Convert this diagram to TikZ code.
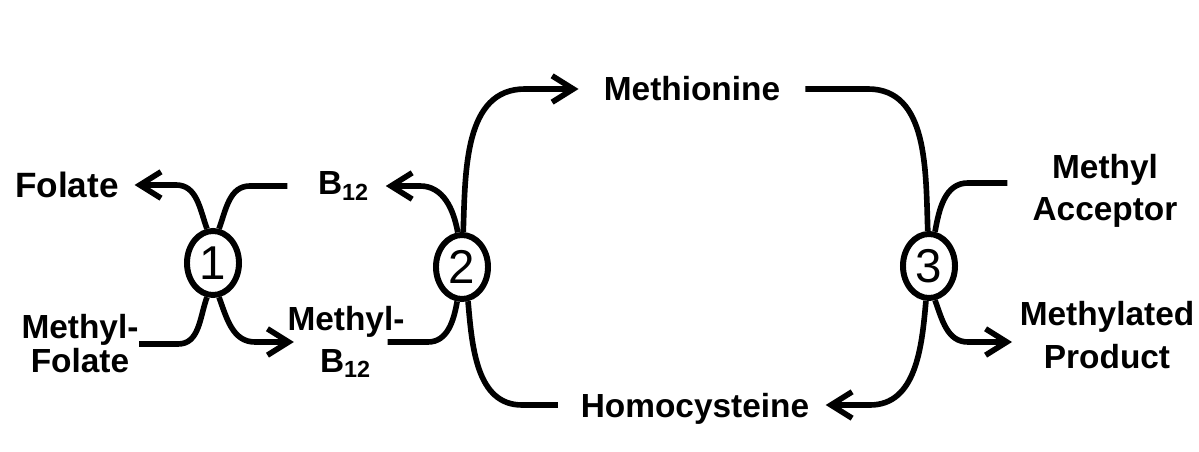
\documentclass[tikz,border=0pt]{standalone}
\usepackage{fontspec}
\setmainfont{Liberation Sans}
\usetikzlibrary{arrows.meta,shapes.geometric}

\begin{document}
\begin{tikzpicture}[x=0.01cm,y=-0.01cm,
		linie/.style={line width=1.6pt},
		pfeil/.style={linie,-{Straight Barb[length=6pt,width=7.5pt]}},
		enzym/.style={draw,ellipse,line width=1.7pt,fill=white,inner sep=0pt,
			minimum width=0.52cm,minimum height=0.64cm,font=\fontsize{13.5}{13.5}\selectfont},
		stoff/.style={inner sep=0pt,align=center,font=\bfseries\fontsize{9.5}{12}\selectfont}]
		\useasboundingbox (0,0) rectangle (1199,452);
		% Enzyme
		\node[enzym] (e1) at (213,263) {1};
		\node[enzym] (e2) at (462,267) {2};
		\node[enzym] (e3) at (929,266) {3};
		% Stoffe
		\node[stoff,font=\bfseries\fontsize{10}{12}\selectfont] (folate) at (67,185) {Folate};
		\node[stoff] (b12) at (344,186) {B\textsubscript{12}};
		\node[stoff,font=\bfseries\fontsize{9.5}{9.7}\selectfont] (mfolate) at (80,344) {Methyl-\\Folate};
		\node[stoff] (mb12) at (346,342) {Methyl-\\B\textsubscript{12}};
		\node[stoff] (met) at (692,89) {Methionine};
		\node[stoff,text depth=0pt] (hcy) at (695,405) {Homocysteine};
		\node[stoff] (acc) at (1105,191) {Methyl\\Acceptor};
		\node[stoff] (prod) at (1107,335) {Methylated\\Product};
		% Reaktion 1
		\draw[pfeil,shorten >=4.3pt] (e1.100) to[out=110,in=0] (176,185) -- (folate.east);
		\draw[linie,shorten <=8.5pt] (b12.west) -- (250,186) to[out=180,in=70] (e1.80);
		\draw[linie] (mfolate.east) -- (178,344) to[out=0,in=250] (e1.260);
		\draw[pfeil,shorten >=-2pt] (e1.280) to[out=290,in=180] (255,342) -- (mb12.west);
		% Reaktion 2
		\draw[linie,shorten <=-5pt] (mb12.east) -- (428,342) to[out=0,in=260] (e2.262);
		\draw[pfeil,shorten >=4.3pt] (e2.97) to[out=100,in=0] (420,186) -- (b12.east);
		\draw[pfeil,shorten >=7pt] (e2.88) to[out=88,in=180] (525,89) -- (met.west);
		\draw[linie,shorten <=6.3pt] (hcy.west) -- (522,405) to[out=180,in=275] (e2.280);
		% Reaktion 3
		\draw[linie,shorten <=7pt] (met.east) -- (868,89) to[out=0,in=92] (e3.92);
		\draw[linie,shorten <=7pt] (acc.west |- 0,183) -- (968,183) to[out=180,in=80] (e3.80);
		\draw[pfeil,shorten >=2pt] (e3.280) to[out=290,in=180] (968,342) -- (prod.west |- 0,342);
		\draw[pfeil,shorten >=4.5pt] (e3.265) to[out=265,in=0] (870,405) -- (hcy.east);
	\end{tikzpicture}
\end{document}
